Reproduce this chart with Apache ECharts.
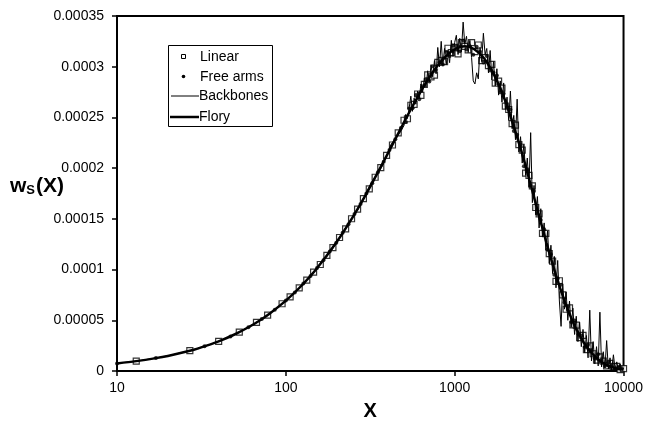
<!DOCTYPE html>
<html>
<head>
<meta charset="utf-8">
<script src="https://cdn.jsdelivr.net/npm/echarts@6/dist/echarts.min.js"></script>
<style>
html,body{margin:0;padding:0;background:#fff;}
#chart{width:646px;height:433px;}
</style>
</head>
<body>
<div id="chart"></div>
<script>
// ---- data ----
const xTickLabels = ['10', '100', '1000', '10000'];
const yTickLabels = ['0', '0.00005', '0.0001', '0.00015', '0.0002', '0.00025', '0.0003', '0.00035'];
const legendNames = ['Linear', 'Free arms', 'Backbones', 'Flory'];

const xLinear = [13, 27, 40, 53, 67, 78, 95, 106, 120, 133, 146, 160, 175, 190, 208, 226, 245, 266, 288, 312, 338, 365, 395, 428, 463,
  501, 525, 550, 575, 603, 631, 661, 692, 724, 759, 794, 832, 871, 912, 955, 1000, 1047, 1096, 1148, 1202, 1259, 1318, 1380, 1445, 1514,
  1585, 1660, 1738, 1820, 1905, 1995, 2089, 2188, 2291, 2399, 2512, 2630, 2754, 2884, 3020, 3162, 3311, 3467, 3631, 3802, 3981, 4169,
  4365, 4571, 4786, 5012, 5248, 5495, 5754, 6026, 6310, 6607, 6918, 7244, 7586, 7943, 8318, 8710, 9120, 9550, 10000];
const yLinear = [9.73e-6, 2.00e-5, 2.93e-5, 3.83e-5, 4.79e-5, 5.50e-5, 6.63e-5, 7.30e-5, 8.20e-5, 8.95e-5, 9.75e-5, 1.050e-4, 1.140e-4,
  1.217e-4, 1.316e-4, 1.402e-4, 1.501e-4, 1.595e-4, 1.700e-4, 1.796e-4, 1.910e-4, 2.005e-4, 2.125e-4, 2.228e-4, 2.348e-4,
  2.472e-4, 2.487e-4, 2.620e-4, 2.629e-4, 2.731e-4, 2.718e-4, 2.825e-4, 2.919e-4, 2.899e-4, 2.918e-4, 3.042e-4, 3.063e-4, 3.050e-4,
  3.182e-4, 3.139e-4, 3.191e-4, 3.127e-4, 3.237e-4, 3.200e-4, 3.167e-4, 3.237e-4, 3.149e-4, 3.214e-4, 3.061e-4, 3.090e-4, 3.011e-4,
  3.024e-4, 2.839e-4, 2.858e-4, 2.788e-4, 2.612e-4, 2.578e-4, 2.438e-4, 2.424e-4, 2.232e-4, 2.177e-4, 1.950e-4, 1.929e-4, 1.825e-4,
  1.612e-4, 1.549e-4, 1.357e-4, 1.356e-4, 1.158e-4, 1.084e-4, 8.84e-5, 8.90e-5, 7.51e-5, 6.09e-5, 6.23e-5, 4.55e-5, 4.53e-5, 3.29e-5,
  3.52e-5, 2.11e-5, 2.47e-5, 1.70e-5, 1.07e-5, 1.40e-5, 9.8e-6, 5.0e-6, 7.5e-6, 4.4e-6, 4.5e-6, 1.3e-6, 2.3e-6];

const xFreeArms = [10, 17, 33, 47, 60, 72, 86, 100, 113, 127, 140, 153, 167, 182, 199, 217, 235, 255, 277, 300, 325, 351, 380, 411, 445, 480,
  513, 537, 562, 589, 617, 646, 676, 708, 741, 776, 813, 851, 891, 933, 977, 1023, 1072, 1122, 1175, 1230, 1288, 1349, 1413, 1479,
  1549, 1622, 1698, 1778, 1862, 1950, 2042, 2138, 2239, 2344, 2455, 2570, 2692, 2818, 2951, 3090, 3236, 3388, 3548, 3715, 3890, 4074,
  4266, 4467, 4677, 4898, 5129, 5370, 5623, 5888, 6166, 6457, 6761, 7079, 7413, 7762, 8128, 8511, 8913, 9333, 9772];
const yFreeArms = [7.50e-6, 1.27e-5, 2.43e-5, 3.41e-5, 4.31e-5, 5.12e-5, 6.05e-5, 6.94e-5, 7.74e-5, 8.62e-5, 9.37e-5, 1.015e-4, 1.092e-4,
  1.178e-4, 1.265e-4, 1.362e-4, 1.448e-4, 1.547e-4, 1.646e-4, 1.750e-4, 1.852e-4, 1.960e-4, 2.064e-4, 2.178e-4, 2.285e-4, 2.395e-4,
  2.455e-4, 2.589e-4, 2.590e-4, 2.720e-4, 2.680e-4, 2.807e-4, 2.872e-4, 2.854e-4, 3.004e-4, 2.970e-4, 3.043e-4, 3.022e-4, 3.146e-4,
  3.106e-4, 3.210e-4, 3.199e-4, 3.152e-4, 3.259e-4, 3.169e-4, 3.202e-4, 3.118e-4, 3.197e-4, 3.148e-4, 3.041e-4, 3.106e-4, 2.963e-4,
  2.942e-4, 2.914e-4, 2.748e-4, 2.735e-4, 2.595e-4, 2.578e-4, 2.366e-4, 2.328e-4, 2.235e-4, 2.019e-4, 1.990e-4, 1.827e-4, 1.774e-4,
  1.551e-4, 1.488e-4, 1.397e-4, 1.197e-4, 1.151e-4, 9.49e-5, 9.12e-5, 8.51e-5, 6.75e-5, 6.36e-5, 4.84e-5, 4.99e-5, 3.71e-5, 3.51e-5,
  2.37e-5, 2.59e-5, 1.99e-5, 1.24e-5, 1.64e-5, 9.9e-6, 4.9e-6, 8.3e-6, 5.0e-6, 2.0e-6, 4.2e-6, 2.6e-6];

const xBackbones = [10, 14, 20, 28, 38, 50, 65, 80, 100, 125, 155, 190, 230, 270, 320, 370, 420, 470,
  501, 513, 525, 537, 550, 562, 575, 589, 603, 617, 631, 646, 661, 676, 692, 708, 724, 741, 759, 776, 794, 813, 832, 851, 871, 891,
  912, 933, 955, 977, 1000, 1023, 1047, 1072, 1096, 1122, 1148, 1175, 1202, 1230, 1259, 1288, 1318, 1349, 1380, 1413, 1445, 1479,
  1514, 1549, 1585, 1622, 1660, 1698, 1738, 1778, 1820, 1862, 1905, 1950, 1995, 2042, 2089, 2138, 2188, 2239, 2291, 2344, 2399,
  2455, 2512, 2570, 2630, 2692, 2754, 2818, 2884, 2951, 3020, 3090, 3162, 3236, 3311, 3388, 3467, 3548, 3631, 3715, 3802, 3890,
  3981, 4074, 4169, 4266, 4365, 4467, 4571, 4677, 4786, 4898, 5012, 5129, 5248, 5370, 5495, 5623, 5754, 5888, 6026, 6166, 6310,
  6457, 6607, 6761, 6918, 7079, 7244, 7413, 7586, 7762, 7943, 8128, 8318, 8511, 8710, 8913, 9120, 9333, 9550, 9772, 10000];
const yBackbones = [7.5e-6, 1.05e-5, 1.49e-5, 2.07e-5, 2.78e-5, 3.62e-5, 4.66e-5, 5.63e-5, 6.95e-5, 8.45e-5, 1.030e-4, 1.210e-4,
  1.435e-4, 1.605e-4, 1.855e-4, 2.010e-4, 2.235e-4, 2.340e-4,
  2.42e-4, 2.53e-4, 2.49e-4, 2.59e-4, 2.71e-4, 2.56e-4, 2.69e-4, 2.63e-4, 2.76e-4, 2.69e-4,
  2.83e-4, 2.75e-4, 2.89e-4, 2.80e-4, 2.96e-4, 2.85e-4, 3.02e-4, 2.90e-4, 3.06e-4, 2.93e-4,
  3.19e-4, 3.00e-4, 3.25e-4, 3.01e-4, 3.18e-4, 3.02e-4, 3.16e-4, 3.04e-4, 3.26e-4, 3.10e-4,
  3.24e-4, 3.31e-4, 3.12e-4, 3.28e-4, 3.15e-4, 3.44e-4, 3.22e-4, 3.30e-4, 3.14e-4, 3.26e-4,
  3.09e-4, 2.86e-4, 2.83e-4, 2.94e-4, 2.88e-4, 3.19e-4, 3.05e-4, 3.33e-4, 3.12e-4, 3.18e-4,
  2.94e-4, 3.16e-4, 2.87e-4, 3.05e-4, 2.81e-4, 2.98e-4, 2.72e-4, 2.86e-4, 2.65e-4, 2.84e-4,
  2.58e-4, 2.70e-4, 2.47e-4, 2.76e-4, 2.39e-4, 2.52e-4, 2.28e-4, 2.68e-4, 2.16e-4, 2.31e-4,
  2.05e-4, 2.24e-4, 1.93e-4, 2.10e-4, 1.81e-4, 2.35e-4, 1.66e-4, 1.83e-4, 1.54e-4, 1.72e-4,
  1.41e-4, 1.60e-4, 1.32e-4, 1.46e-4, 1.19e-4, 1.38e-4, 1.06e-4, 1.24e-4, 9.6e-5, 1.13e-4,
  8.2e-5, 1.09e-4, 6.9e-5, 4.4e-5, 8.6e-5, 6.1e-5, 7.8e-5, 5.0e-5, 6.9e-5, 4.3e-5,
  6.2e-5, 3.6e-5, 5.4e-5, 2.9e-5, 4.8e-5, 2.4e-5, 4.1e-5, 1.8e-5, 3.5e-5, 1.3e-5,
  6.0e-5, 1.0e-5, 2.9e-5, 7e-6, 2.4e-5, 5e-6, 5.8e-5, 4e-6, 1.9e-5, 3e-6,
  3.0e-5, 2e-6, 1.3e-5, 1e-6, 1.6e-5, 2e-6, 9e-6, 1e-6, 7e-6, 1e-6, 3e-6];

const xFlory = [10, 13, 17, 20, 27, 30, 40, 50, 60, 70, 80, 100, 120, 150, 200, 250, 300, 400, 500, 600, 700, 800, 900, 1000,
  1150, 1300, 1500, 1750, 2000, 2500, 3000, 3500, 4000, 4500, 5000, 5500, 6000, 7000, 8000, 9000, 10000];
const yFlory = [7.50e-6, 9.73e-6, 1.268e-5, 1.488e-5, 1.996e-5, 2.212e-5, 2.924e-5, 3.623e-5, 4.310e-5, 4.985e-5, 5.648e-5, 6.939e-5,
  8.183e-5, 9.965e-5, 1.272e-4, 1.522e-4, 1.749e-4, 2.138e-4, 2.450e-4, 2.694e-4, 2.882e-4, 3.019e-4, 3.113e-4, 3.171e-4, 3.201e-4,
  3.175e-4, 3.079e-4, 2.888e-4, 2.657e-4, 2.150e-4, 1.669e-4, 1.261e-4, 9.33e-5, 6.79e-5, 4.89e-5, 3.48e-5, 2.46e-5, 1.20e-5, 5.8e-6,
  2.7e-6, 1.3e-6];

// ---- chart ----
const pairs = (xs, ys) => xs.map((x, i) => [x, ys[i]]);
const FONT = '"Liberation Sans", Arial, Helvetica, sans-serif';
const chart = echarts.init(document.getElementById('chart'), null, {renderer: 'canvas'});

const lx = 168, ly = 45;
const option = {
  animation: false,
  backgroundColor: '#fff',
  grid: {left: 117, right: 22, top: 16, bottom: 62, show: true, borderColor: '#000', borderWidth: 2, backgroundColor: 'transparent'},
  xAxis: {
    type: 'log', logBase: 10, min: 10, max: 10000,
    name: 'X', nameLocation: 'middle', nameGap: 30,
    nameTextStyle: {fontFamily: FONT, fontSize: 20, fontWeight: 'bold', color: '#000'},
    axisLine: {show: true, lineStyle: {color: '#000', width: 2}},
    axisTick: {show: true, inside: false, length: 5, lineStyle: {color: '#000', width: 1.5}},
    minorTick: {show: false},
    splitLine: {show: false},
    axisLabel: {fontFamily: FONT, fontSize: 14, color: '#000', margin: 10,
      formatter: v => xTickLabels[Math.round(Math.log10(v)) - 1]}
  },
  yAxis: {
    type: 'value', min: 0, max: 0.00035, interval: 0.00005,
    axisLine: {show: true, lineStyle: {color: '#000', width: 2}},
    axisTick: {show: true, inside: false, length: 5, lineStyle: {color: '#000', width: 1.5}},
    splitLine: {show: false},
    axisLabel: {fontFamily: FONT, fontSize: 14, color: '#000', margin: 13,
      formatter: v => yTickLabels[Math.round(v / 0.00005)]}
  },
  graphic: [
    {type: 'text', left: 10, top: 176, style: {
      text: '{a|w}{b|S}{a|(X)}', fill: '#000',
      rich: {
        a: {fontFamily: FONT, fontSize: 21, fontWeight: 'bold', fill: '#000', verticalAlign: 'bottom', lineHeight: 24},
        b: {fontFamily: FONT, fontSize: 13, fontWeight: 'bold', fill: '#000', verticalAlign: 'bottom', lineHeight: 18, padding: [0, 1, 0, 0]}
      }
    }},
    {type: 'rect', shape: {x: lx + 0.5, y: ly + 0.5, width: 104, height: 81}, style: {fill: '#fff', stroke: '#000', lineWidth: 1}, z: 100},
    {type: 'rect', shape: {x: 181.5, y: 54.5, width: 4, height: 4}, style: {fill: '#fff', stroke: '#000', lineWidth: 1}, z: 101},
    {type: 'circle', shape: {cx: 183.5, cy: 76.5, r: 1.8}, style: {fill: '#000'}, z: 101},
    {type: 'line', shape: {x1: 171, y1: 96, x2: 199, y2: 96}, style: {stroke: '#000', lineWidth: 1}, z: 101},
    {type: 'line', shape: {x1: 170, y1: 117, x2: 199, y2: 117}, style: {stroke: '#000', lineWidth: 2.5}, z: 101},
    {type: 'text', x: 200, y: 57, style: {text: legendNames[0], font: '14px ' + FONT, fill: '#000', textVerticalAlign: 'middle'}, z: 101},
    {type: 'text', x: 200, y: 77, style: {text: legendNames[1], font: '14px ' + FONT, fill: '#000', textVerticalAlign: 'middle'}, z: 101},
    {type: 'text', x: 199, y: 96, style: {text: legendNames[2], font: '14px ' + FONT, fill: '#000', textVerticalAlign: 'middle'}, z: 101},
    {type: 'text', x: 199, y: 117, style: {text: legendNames[3], font: '14px ' + FONT, fill: '#000', textVerticalAlign: 'middle'}, z: 101}
  ],
  series: [
    {name: legendNames[0], type: 'scatter', data: pairs(xLinear, yLinear), symbol: 'rect', symbolSize: 6,
      itemStyle: {color: '#fff', borderColor: '#000', borderWidth: 1.2}, z: 3},
    {name: legendNames[1], type: 'scatter', data: pairs(xFreeArms, yFreeArms), symbol: 'circle', symbolSize: 4,
      itemStyle: {color: '#000'}, z: 4},
    {name: legendNames[2], type: 'line', data: pairs(xBackbones, yBackbones), symbol: 'none', showSymbol: false,
      lineStyle: {color: '#000', width: 1}, z: 5},
    {name: legendNames[3], type: 'line', data: pairs(xFlory, yFlory), symbol: 'none', showSymbol: false, smooth: 0.3,
      lineStyle: {color: '#000', width: 2.5}, z: 6}
  ]
};
chart.setOption(option);
</script>
</body>
</html>
